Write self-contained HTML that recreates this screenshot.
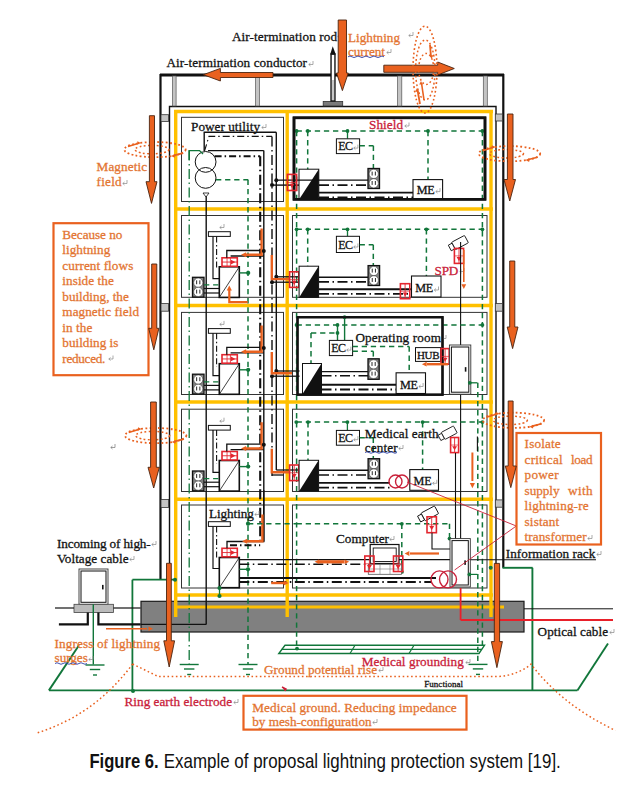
<!DOCTYPE html>
<html><head><meta charset="utf-8"><style>
html,body{margin:0;padding:0;background:#fff;}
svg{display:block;}
</style></head><body>
<svg width="636" height="788" viewBox="0 0 636 788">
<rect width="636" height="788" fill="#fff"/>
<rect x="141" y="601.3" width="383" height="30.7" fill="#808080" stroke="#1a1a1a" stroke-width="1.2" />
<line x1="174" y1="111.5" x2="493" y2="111.5" stroke="#ffc000" stroke-width="3.6" />
<line x1="174" y1="209" x2="493" y2="209" stroke="#ffc000" stroke-width="3.6" />
<line x1="174" y1="305.5" x2="493" y2="305.5" stroke="#ffc000" stroke-width="3.6" />
<line x1="174" y1="402" x2="493" y2="402" stroke="#ffc000" stroke-width="3.6" />
<line x1="174" y1="499.3" x2="493" y2="499.3" stroke="#ffc000" stroke-width="3.6" />
<line x1="174" y1="595" x2="493" y2="595" stroke="#ffc000" stroke-width="3.6" />
<line x1="175.7" y1="110" x2="175.7" y2="597" stroke="#ffc000" stroke-width="3.4" />
<line x1="287.2" y1="110" x2="287.2" y2="597" stroke="#ffc000" stroke-width="3.4" />
<line x1="491" y1="110" x2="491" y2="597" stroke="#ffc000" stroke-width="3.4" />
<line x1="175.7" y1="597" x2="175.7" y2="617" stroke="#ffc000" stroke-width="3.4" />
<line x1="491" y1="597" x2="491" y2="617" stroke="#ffc000" stroke-width="3.4" />
<line x1="287.2" y1="597" x2="287.2" y2="617" stroke="#ffc000" stroke-width="3.4" />
<line x1="175.7" y1="607" x2="504" y2="607" stroke="#ffc000" stroke-width="3" />
<path d="M160.5,580 V75 H503.3 V567.8" fill="none" stroke="#111" stroke-width="2.2" />
<line x1="160" y1="75" x2="504" y2="75" stroke="#111" stroke-width="3" />
<path d="M169.5,563 V106.5 H496 V601" fill="none" stroke="#111" stroke-width="1.4" />
<rect x="172.5" y="76" width="3.6" height="30" fill="#c4c4c4" stroke="#555" stroke-width="0.7" />
<rect x="255.6" y="76" width="3.8" height="30" fill="#c4c4c4" stroke="#555" stroke-width="0.7" />
<rect x="397.6" y="76" width="4.2" height="30" fill="#c4c4c4" stroke="#555" stroke-width="0.7" />
<rect x="483.3" y="76" width="4" height="30" fill="#c4c4c4" stroke="#555" stroke-width="0.7" />
<rect x="161" y="114.7" width="7.6" height="6.8" fill="#c4c4c4" stroke="#333" stroke-width="0.8" />
<rect x="161" y="303.6" width="7.6" height="7.6" fill="#c4c4c4" stroke="#333" stroke-width="0.8" />
<rect x="161" y="499.4" width="7.6" height="8" fill="#c4c4c4" stroke="#333" stroke-width="0.8" />
<rect x="495.3" y="114" width="7.2" height="7" fill="#c4c4c4" stroke="#333" stroke-width="0.8" />
<rect x="495.3" y="303.6" width="7.2" height="7.6" fill="#c4c4c4" stroke="#333" stroke-width="0.8" />
<rect x="495.3" y="499.9" width="7.2" height="7.3" fill="#c4c4c4" stroke="#333" stroke-width="0.8" />
<rect x="181.5" y="117.3" width="102" height="84.2" fill="none" stroke="#333" stroke-width="1" />
<rect x="181.5" y="215.5" width="102" height="81.80000000000001" fill="none" stroke="#333" stroke-width="1" />
<rect x="292.5" y="215.5" width="194.5" height="81.80000000000001" fill="none" stroke="#333" stroke-width="1" />
<rect x="181.5" y="312.4" width="102" height="82.10000000000002" fill="none" stroke="#333" stroke-width="1" />
<rect x="292.5" y="312.4" width="194.5" height="82.10000000000002" fill="none" stroke="#333" stroke-width="1" />
<rect x="181.5" y="409.2" width="102" height="82.30000000000001" fill="none" stroke="#333" stroke-width="1" />
<rect x="292.5" y="409.2" width="194.5" height="82.30000000000001" fill="none" stroke="#333" stroke-width="1" />
<rect x="181.5" y="505" width="102" height="83" fill="none" stroke="#333" stroke-width="1" />
<rect x="292.5" y="505" width="194.5" height="83" fill="none" stroke="#333" stroke-width="1" />
<rect x="294" y="117.8" width="191" height="81.5" fill="none" stroke="#111" stroke-width="2.6" />
<rect x="297.5" y="317.2" width="145" height="77.5" fill="none" stroke="#111" stroke-width="2.2" />
<text x="232" y="41.3" font-family="Liberation Serif" font-size="13.2" fill="#111" stroke="#111" stroke-width="0.28" textLength="105" lengthAdjust="spacing" >Air-termination rod</text>
<text x="166.5" y="67.3" font-family="Liberation Serif" font-size="13.2" fill="#111" stroke="#111" stroke-width="0.28" textLength="140.5" lengthAdjust="spacing" >Air-termination conductor</text>
<text x="348" y="42.3" font-family="Liberation Serif" font-size="13.2" fill="#e37431" stroke="#e37431" stroke-width="0.28" textLength="52" lengthAdjust="spacing" >Lightning</text>
<text x="348" y="56.3" font-family="Liberation Serif" font-size="13.2" fill="#e37431" stroke="#e37431" stroke-width="0.28" textLength="37" lengthAdjust="spacing" >current</text>
<text x="96.6" y="171.3" font-family="Liberation Serif" font-size="13.2" fill="#e37431" stroke="#e37431" stroke-width="0.28" textLength="50.4" lengthAdjust="spacing" >Magnetic</text>
<text x="96.6" y="186.3" font-family="Liberation Serif" font-size="13.2" fill="#e37431" stroke="#e37431" stroke-width="0.28" textLength="25" lengthAdjust="spacing" >field</text>
<text x="89.4" y="767.8" font-family="Liberation Sans" font-size="21" font-weight="bold" fill="#111" textLength="69.2" lengthAdjust="spacingAndGlyphs">Figure 6.</text>
<text x="163.8" y="767.8" font-family="Liberation Sans" font-size="21" fill="#111" textLength="397" lengthAdjust="spacingAndGlyphs">Example of proposal lightning protection system [19].</text>
<line x1="206.2" y1="196" x2="206.2" y2="624.4" stroke="#111" stroke-width="1.4" />
<path d="M140.8,624.4 H206.2" fill="none" stroke="#111" stroke-width="1.4" />
<line x1="260.2" y1="156.2" x2="260.2" y2="543.6" stroke="#111" stroke-width="2.1" stroke-dasharray="10,3.5,1.5,3.5"/>
<line x1="263.8" y1="150.6" x2="263.8" y2="541.5" stroke="#111" stroke-width="1.4" />
<line x1="272" y1="136.4" x2="272" y2="476" stroke="#111" stroke-width="1.4" stroke-dasharray="10,3.5,1.5,3.5"/>
<line x1="276.3" y1="132.3" x2="276.3" y2="470" stroke="#111" stroke-width="1.4" />
<line x1="189.2" y1="150.6" x2="189.2" y2="664" stroke="#11763a" stroke-width="1.3" stroke-dasharray="10,3.5,1.5,3.5"/>
<line x1="248" y1="179.8" x2="248" y2="664" stroke="#11763a" stroke-width="1.5" stroke-dasharray="5.3,3.8"/>
<line x1="179.7" y1="664.5" x2="198.7" y2="664.5" stroke="#11763a" stroke-width="1.4" />
<line x1="184.0" y1="669.0" x2="194.39999999999998" y2="669.0" stroke="#11763a" stroke-width="1.4" />
<line x1="187.2" y1="674.5" x2="191.2" y2="674.5" stroke="#11763a" stroke-width="1.4" />
<line x1="238.5" y1="664.5" x2="257.5" y2="664.5" stroke="#11763a" stroke-width="1.4" />
<line x1="242.8" y1="669.0" x2="253.2" y2="669.0" stroke="#11763a" stroke-width="1.4" />
<line x1="246" y1="674.5" x2="250" y2="674.5" stroke="#11763a" stroke-width="1.4" />
<text x="191" y="131.1" font-family="Liberation Serif" font-size="13.2" fill="#111" stroke="#111" stroke-width="0.28" textLength="69" lengthAdjust="spacing" >Power utility</text>
<path d="M266,124 V127.5 H261.8 M263.5,126 L261.8,127.5 L263.5,129" fill="none" stroke="#888" stroke-width="0.7"/>
<circle cx="205.6" cy="161.9" r="10.4" fill="#fff" stroke="#111" stroke-width="1"/>
<circle cx="205.6" cy="177.9" r="10.4" fill="none" stroke="#111" stroke-width="1"/>
<polygon points="203,193 209,193 206,197" fill="#fff" stroke="#111" stroke-width="0.8"/>
<path d="M204.2,151 V132.3 H276.3" fill="none" stroke="#111" stroke-width="1.4" />
<path d="M208,150.6 H263.8" fill="none" stroke="#111" stroke-width="1.4" />
<path d="M204.5,151 L209,136.4 H272" fill="none" stroke="#111" stroke-width="1.1" stroke-dasharray="7,3,1.5,3"/>
<path d="M214.6,156.2 H260.2" fill="none" stroke="#111" stroke-width="2.1" stroke-dasharray="7,3,1.5,3"/>
<path d="M189.2,160 V150.6 H199.5 L203,154" fill="none" stroke="#11763a" stroke-width="1.4" />
<line x1="216" y1="179.8" x2="248.2" y2="179.8" stroke="#11763a" stroke-width="1.5" stroke-dasharray="5.3,3.8"/>
<circle cx="276.3" cy="180.2" r="2" fill="#111"/>
<circle cx="272" cy="185.1" r="2" fill="#111"/>
<text x="369" y="129.3" font-family="Liberation Serif" font-size="13.2" fill="#c9213a" stroke="#c9213a" stroke-width="0.28" textLength="34" lengthAdjust="spacing" >Shield</text>
<path d="M409,122.5 V126.0 H404.8 M406.5,124.5 L404.8,126.0 L406.5,127.5" fill="none" stroke="#888" stroke-width="0.7"/>
<line x1="296.6" y1="131" x2="482.4" y2="131" stroke="#11763a" stroke-width="1.5" stroke-dasharray="5.3,3.8"/>
<circle cx="296.6" cy="131" r="1.9" fill="#11763a"/>
<circle cx="307.7" cy="131" r="1.9" fill="#11763a"/>
<circle cx="347.5" cy="131" r="1.9" fill="#11763a"/>
<circle cx="428" cy="131" r="1.9" fill="#11763a"/>
<circle cx="482.4" cy="131" r="1.9" fill="#11763a"/>
<line x1="296.6" y1="131" x2="296.6" y2="648.6" stroke="#11763a" stroke-width="1.5" stroke-dasharray="5.3,3.8"/>
<line x1="307.7" y1="131" x2="307.7" y2="199" stroke="#11763a" stroke-width="1.5" stroke-dasharray="5.3,3.8"/>
<line x1="428" y1="131" x2="428" y2="179.6" stroke="#11763a" stroke-width="1.5" stroke-dasharray="5.3,3.8"/>
<line x1="482.4" y1="131" x2="482.4" y2="645" stroke="#11763a" stroke-width="1.5" stroke-dasharray="5.3,3.8"/>
<line x1="347.5" y1="131" x2="347.5" y2="138.8" stroke="#11763a" stroke-width="1.3" />
<rect x="336.4" y="138.8" width="23.2" height="14.8" fill="#fff" stroke="#111" stroke-width="1" />
<text x="338.2" y="150.00000000000003" font-family="Liberation Serif" font-size="12" fill="#111" stroke="#111" stroke-width="0.28" textLength="14.8" lengthAdjust="spacing" >EC</text>
<path d="M357.9,144.60000000000002 V148.10000000000002 H353.7 M355.4,146.60000000000002 L353.7,148.10000000000002 L355.4,149.60000000000002" fill="none" stroke="#888" stroke-width="0.7"/>
<line x1="359.6" y1="145.7" x2="373.4" y2="145.7" stroke="#11763a" stroke-width="1.5" stroke-dasharray="5.3,3.8"/>
<line x1="373.4" y1="145.7" x2="373.4" y2="168.5" stroke="#11763a" stroke-width="1.5" stroke-dasharray="5.3,3.8"/>
<rect x="368" y="168.5" width="11.5" height="20" fill="#808080" stroke="#111" stroke-width="1.3" />
<circle cx="373.75" cy="173.9" r="4.6" fill="#fff" stroke="#222" stroke-width="0.5"/>
<line x1="372.15" y1="171.6" x2="372.15" y2="175.5" stroke="#111" stroke-width="0.9" />
<line x1="375.35" y1="171.6" x2="375.35" y2="175.5" stroke="#111" stroke-width="0.9" />
<circle cx="373.75" cy="183.3" r="4.6" fill="#fff" stroke="#222" stroke-width="0.5"/>
<line x1="372.15" y1="181.0" x2="372.15" y2="184.9" stroke="#111" stroke-width="0.9" />
<line x1="375.35" y1="181.0" x2="375.35" y2="184.9" stroke="#111" stroke-width="0.9" />
<rect x="413" y="179.6" width="29.6" height="19" fill="#fff" stroke="#111" stroke-width="1.1" />
<text x="416.8" y="193.6" font-family="Liberation Serif" font-size="12.2" fill="#111" stroke="#111" stroke-width="0.28" textLength="18" lengthAdjust="spacing" >ME</text>
<path d="M440,188.1 V191.6 H435.8 M437.5,190.1 L435.8,191.6 L437.5,193.1" fill="none" stroke="#888" stroke-width="0.7"/>
<rect x="299" y="169.2" width="19.8" height="30.4" fill="#fff" stroke="#111" stroke-width="1" />
<polygon points="299,199.6 318.8,169.2 318.8,199.6" fill="#111"/>
<line x1="276.3" y1="180.2" x2="368" y2="180.2" stroke="#111" stroke-width="1.3" />
<line x1="272" y1="185.1" x2="299" y2="185.1" stroke="#111" stroke-width="1.4" />
<line x1="319" y1="185.1" x2="368" y2="185.1" stroke="#111" stroke-width="1.6" stroke-dasharray="10,3.5,1.5,3.5"/>
<line x1="319" y1="192.6" x2="413" y2="192.6" stroke="#111" stroke-width="1.9" />
<line x1="319" y1="197.4" x2="413" y2="197.4" stroke="#111" stroke-width="1.9" stroke-dasharray="10,3.5,1.5,3.5"/>
<rect x="294" y="117.8" width="191" height="81.5" fill="none" stroke="#111" stroke-width="2.6" />
<rect x="287.4" y="174.4" width="9.2" height="16.1" fill="none" stroke="#e3262f" stroke-width="1.6" />
<line x1="292.0" y1="174.4" x2="292.0" y2="190.5" stroke="#e3262f" stroke-width="0.9" />
<line x1="287.4" y1="182.45000000000002" x2="296.59999999999997" y2="182.45000000000002" stroke="#e3262f" stroke-width="0.7" />
<polygon points="289.6,183.738 294.4,183.738 292.0,188.085" fill="#e3262f"/>
<path d="M224,224 V227.5 H219.8 M221.5,226 L219.8,227.5 L221.5,229" fill="none" stroke="#888" stroke-width="0.7"/>
<rect x="208.4" y="231.7" width="21.9" height="4.7" fill="#fff" stroke="#111" stroke-width="1" />
<path d="M213,236.4 V278.7 H219.5" fill="none" stroke="#111" stroke-width="1.2" />
<line x1="216.6" y1="236.4" x2="216.6" y2="270" stroke="#111" stroke-width="1.1" stroke-dasharray="6,2.5,1.5,2.5"/>
<rect x="219.3" y="266.8" width="20" height="30.6" fill="#fff" stroke="#111" stroke-width="1.6" />
<line x1="219.3" y1="297.40000000000003" x2="239.3" y2="266.8" stroke="#111" stroke-width="0.8" />
<rect x="222" y="257.8" width="15.3" height="8.5" fill="#fff" stroke="#e3262f" stroke-width="1.6" />
<line x1="222" y1="262.05" x2="237.3" y2="262.05" stroke="#e3262f" stroke-width="0.9" />
<line x1="227.049" y1="257.8" x2="227.049" y2="266.3" stroke="#e3262f" stroke-width="0.8" />
<line x1="230.415" y1="257.8" x2="230.415" y2="266.3" stroke="#e3262f" stroke-width="0.8" />
<polygon points="230.874,259.65000000000003 230.874,264.45 235.464,262.05" fill="#e3262f"/>
<path d="M226.8,257.8 V250.5 H263.8" fill="none" stroke="#111" stroke-width="1.3" />
<line x1="230.6" y1="256" x2="263.8" y2="256" stroke="#111" stroke-width="1.3" />
<path d="M261.6,228.6 L261.6,254.8 L246,254.8" fill="none" stroke="#e9611f" stroke-width="2.4" stroke-linejoin="miter"/>
<polygon points="241,254.8 246.12,252.24 246.12,257.36" fill="#e9611f"/>
<circle cx="263.8" cy="251" r="2" fill="#111"/>
<line x1="239.3" y1="272.9" x2="248.2" y2="272.9" stroke="#11763a" stroke-width="1.4" />
<circle cx="248.2" cy="272.9" r="2.1" fill="#11763a"/>
<rect x="192.5" y="277.3" width="11.5" height="19.8" fill="#808080" stroke="#111" stroke-width="1.3" />
<circle cx="198.25" cy="282.646" r="4.6" fill="#fff" stroke="#222" stroke-width="0.5"/>
<line x1="196.65" y1="280.346" x2="196.65" y2="284.24600000000004" stroke="#111" stroke-width="0.9" />
<line x1="199.85" y1="280.346" x2="199.85" y2="284.24600000000004" stroke="#111" stroke-width="0.9" />
<circle cx="198.25" cy="291.952" r="4.6" fill="#fff" stroke="#222" stroke-width="0.5"/>
<line x1="196.65" y1="289.652" x2="196.65" y2="293.552" stroke="#111" stroke-width="0.9" />
<line x1="199.85" y1="289.652" x2="199.85" y2="293.552" stroke="#111" stroke-width="0.9" />
<line x1="204" y1="284.9" x2="219.3" y2="284.9" stroke="#11763a" stroke-width="1.2" stroke-dasharray="5.3,3.8"/>
<line x1="204" y1="288.5" x2="219.3" y2="288.5" stroke="#111" stroke-width="1.2" />
<line x1="204" y1="293" x2="219.3" y2="293" stroke="#111" stroke-width="1.2" />
<path d="M247.7,302.2 L229.3,302.2 L229.3,290" fill="none" stroke="#e9611f" stroke-width="2.2" stroke-linejoin="miter"/>
<polygon points="229.3,285.5 226.74,290.62 231.86,290.62" fill="#e9611f"/>
<circle cx="276.3" cy="276.8" r="2" fill="#111"/>
<circle cx="272" cy="282.2" r="2" fill="#111"/>
<line x1="276.3" y1="276.8" x2="299.5" y2="276.8" stroke="#111" stroke-width="1.3" />
<line x1="272" y1="282.2" x2="299.5" y2="282.2" stroke="#111" stroke-width="1.3" />
<path d="M271.8,255 L271.8,279.1 L290,279.1" fill="none" stroke="#e9611f" stroke-width="2.4" stroke-linejoin="miter"/>
<rect x="289.6" y="271.8" width="9.2" height="15.6" fill="none" stroke="#e3262f" stroke-width="1.6" />
<line x1="294.20000000000005" y1="271.8" x2="294.20000000000005" y2="287.40000000000003" stroke="#e3262f" stroke-width="0.9" />
<line x1="289.6" y1="279.6" x2="298.8" y2="279.6" stroke="#e3262f" stroke-width="0.7" />
<polygon points="291.80000000000007,280.848 296.6,280.848 294.20000000000005,285.06" fill="#e3262f"/>
<path d="M224,320.9 V324.4 H219.8 M221.5,322.9 L219.8,324.4 L221.5,325.9" fill="none" stroke="#888" stroke-width="0.7"/>
<rect x="208.4" y="328.6" width="21.9" height="4.7" fill="#fff" stroke="#111" stroke-width="1" />
<path d="M213,333.3 V375.6 H219.5" fill="none" stroke="#111" stroke-width="1.2" />
<line x1="216.6" y1="333.3" x2="216.6" y2="366.9" stroke="#111" stroke-width="1.1" stroke-dasharray="6,2.5,1.5,2.5"/>
<rect x="219.3" y="363.7" width="20" height="30.6" fill="#fff" stroke="#111" stroke-width="1.6" />
<line x1="219.3" y1="394.3" x2="239.3" y2="363.7" stroke="#111" stroke-width="0.8" />
<rect x="222" y="354.7" width="15.3" height="8.5" fill="#fff" stroke="#e3262f" stroke-width="1.6" />
<line x1="222" y1="358.95" x2="237.3" y2="358.95" stroke="#e3262f" stroke-width="0.9" />
<line x1="227.049" y1="354.7" x2="227.049" y2="363.2" stroke="#e3262f" stroke-width="0.8" />
<line x1="230.415" y1="354.7" x2="230.415" y2="363.2" stroke="#e3262f" stroke-width="0.8" />
<polygon points="230.874,356.55 230.874,361.34999999999997 235.464,358.95" fill="#e3262f"/>
<path d="M226.8,354.7 V347.4 H263.8" fill="none" stroke="#111" stroke-width="1.3" />
<line x1="230.6" y1="352.9" x2="263.8" y2="352.9" stroke="#111" stroke-width="1.3" />
<path d="M261.6,325.5 L261.6,351.7 L246,351.7" fill="none" stroke="#e9611f" stroke-width="2.4" stroke-linejoin="miter"/>
<polygon points="241,351.7 246.12,349.14 246.12,354.26" fill="#e9611f"/>
<circle cx="263.8" cy="347.9" r="2" fill="#111"/>
<line x1="239.3" y1="369.8" x2="248.2" y2="369.8" stroke="#11763a" stroke-width="1.4" />
<circle cx="248.2" cy="369.8" r="2.1" fill="#11763a"/>
<rect x="192.5" y="374.2" width="11.5" height="19.8" fill="#808080" stroke="#111" stroke-width="1.3" />
<circle cx="198.25" cy="379.546" r="4.6" fill="#fff" stroke="#222" stroke-width="0.5"/>
<line x1="196.65" y1="377.246" x2="196.65" y2="381.146" stroke="#111" stroke-width="0.9" />
<line x1="199.85" y1="377.246" x2="199.85" y2="381.146" stroke="#111" stroke-width="0.9" />
<circle cx="198.25" cy="388.852" r="4.6" fill="#fff" stroke="#222" stroke-width="0.5"/>
<line x1="196.65" y1="386.55199999999996" x2="196.65" y2="390.452" stroke="#111" stroke-width="0.9" />
<line x1="199.85" y1="386.55199999999996" x2="199.85" y2="390.452" stroke="#111" stroke-width="0.9" />
<line x1="204" y1="381.8" x2="219.3" y2="381.8" stroke="#11763a" stroke-width="1.2" stroke-dasharray="5.3,3.8"/>
<line x1="204" y1="385.4" x2="219.3" y2="385.4" stroke="#111" stroke-width="1.2" />
<line x1="204" y1="389.9" x2="219.3" y2="389.9" stroke="#111" stroke-width="1.2" />
<circle cx="276.3" cy="371.0" r="2" fill="#111"/>
<circle cx="272" cy="376.2" r="2" fill="#111"/>
<line x1="276.3" y1="371.0" x2="299.5" y2="371.0" stroke="#111" stroke-width="1.3" />
<line x1="272" y1="376.2" x2="299.5" y2="376.2" stroke="#111" stroke-width="1.3" />
<path d="M271.8,351.9 L271.8,373.3 L292,373.3" fill="none" stroke="#e9611f" stroke-width="2.4" stroke-linejoin="miter"/>
<path d="M224,417.7 V421.2 H219.8 M221.5,419.7 L219.8,421.2 L221.5,422.7" fill="none" stroke="#888" stroke-width="0.7"/>
<rect x="208.4" y="425.4" width="21.9" height="4.7" fill="#fff" stroke="#111" stroke-width="1" />
<path d="M213,430.1 V472.4 H219.5" fill="none" stroke="#111" stroke-width="1.2" />
<line x1="216.6" y1="430.1" x2="216.6" y2="463.7" stroke="#111" stroke-width="1.1" stroke-dasharray="6,2.5,1.5,2.5"/>
<rect x="219.3" y="460.5" width="20" height="30.6" fill="#fff" stroke="#111" stroke-width="1.6" />
<line x1="219.3" y1="491.1" x2="239.3" y2="460.5" stroke="#111" stroke-width="0.8" />
<rect x="222" y="451.5" width="15.3" height="8.5" fill="#fff" stroke="#e3262f" stroke-width="1.6" />
<line x1="222" y1="455.75" x2="237.3" y2="455.75" stroke="#e3262f" stroke-width="0.9" />
<line x1="227.049" y1="451.5" x2="227.049" y2="460.0" stroke="#e3262f" stroke-width="0.8" />
<line x1="230.415" y1="451.5" x2="230.415" y2="460.0" stroke="#e3262f" stroke-width="0.8" />
<polygon points="230.874,453.35 230.874,458.15 235.464,455.75" fill="#e3262f"/>
<path d="M226.8,451.5 V444.2 H263.8" fill="none" stroke="#111" stroke-width="1.3" />
<line x1="230.6" y1="449.7" x2="263.8" y2="449.7" stroke="#111" stroke-width="1.3" />
<path d="M261.6,422.3 L261.6,448.5 L246,448.5" fill="none" stroke="#e9611f" stroke-width="2.4" stroke-linejoin="miter"/>
<polygon points="241,448.5 246.12,445.94 246.12,451.06" fill="#e9611f"/>
<circle cx="263.8" cy="444.7" r="2" fill="#111"/>
<line x1="239.3" y1="466.6" x2="248.2" y2="466.6" stroke="#11763a" stroke-width="1.4" />
<circle cx="248.2" cy="466.6" r="2.1" fill="#11763a"/>
<rect x="192.5" y="471.0" width="11.5" height="19.8" fill="#808080" stroke="#111" stroke-width="1.3" />
<circle cx="198.25" cy="476.346" r="4.6" fill="#fff" stroke="#222" stroke-width="0.5"/>
<line x1="196.65" y1="474.046" x2="196.65" y2="477.946" stroke="#111" stroke-width="0.9" />
<line x1="199.85" y1="474.046" x2="199.85" y2="477.946" stroke="#111" stroke-width="0.9" />
<circle cx="198.25" cy="485.652" r="4.6" fill="#fff" stroke="#222" stroke-width="0.5"/>
<line x1="196.65" y1="483.352" x2="196.65" y2="487.252" stroke="#111" stroke-width="0.9" />
<line x1="199.85" y1="483.352" x2="199.85" y2="487.252" stroke="#111" stroke-width="0.9" />
<line x1="204" y1="478.6" x2="219.3" y2="478.6" stroke="#11763a" stroke-width="1.2" stroke-dasharray="5.3,3.8"/>
<line x1="204" y1="482.2" x2="219.3" y2="482.2" stroke="#111" stroke-width="1.2" />
<line x1="204" y1="486.7" x2="219.3" y2="486.7" stroke="#111" stroke-width="1.2" />
<line x1="276.3" y1="470.0" x2="299.5" y2="470.0" stroke="#111" stroke-width="1.3" />
<line x1="272" y1="475.0" x2="283.5" y2="475.0" stroke="#111" stroke-width="1.3" />
<path d="M271.8,448.7 L271.8,472.3 L290,472.3" fill="none" stroke="#e9611f" stroke-width="2.4" stroke-linejoin="miter"/>
<rect x="289.6" y="465.0" width="9.2" height="15.6" fill="none" stroke="#e3262f" stroke-width="1.6" />
<line x1="294.20000000000005" y1="465.0" x2="294.20000000000005" y2="480.6" stroke="#e3262f" stroke-width="0.9" />
<line x1="289.6" y1="472.8" x2="298.8" y2="472.8" stroke="#e3262f" stroke-width="0.7" />
<polygon points="291.80000000000007,474.048 296.6,474.048 294.20000000000005,478.26" fill="#e3262f"/>
<line x1="296.6" y1="229.3" x2="482.4" y2="229.3" stroke="#11763a" stroke-width="1.5" stroke-dasharray="5.3,3.8"/>
<circle cx="296.6" cy="229.3" r="1.9" fill="#11763a"/>
<circle cx="307.7" cy="229.3" r="1.9" fill="#11763a"/>
<circle cx="347.5" cy="229.3" r="1.9" fill="#11763a"/>
<circle cx="426.4" cy="229.3" r="1.9" fill="#11763a"/>
<circle cx="482.4" cy="229.3" r="1.9" fill="#11763a"/>
<line x1="307.7" y1="229.3" x2="307.7" y2="297" stroke="#11763a" stroke-width="1.5" stroke-dasharray="5.3,3.8"/>
<line x1="426.4" y1="229.3" x2="426.4" y2="297" stroke="#11763a" stroke-width="1.5" stroke-dasharray="5.3,3.8"/>
<line x1="347.5" y1="229.3" x2="347.5" y2="236.3" stroke="#11763a" stroke-width="1.3" />
<rect x="336.4" y="236.3" width="23.1" height="16.2" fill="#fff" stroke="#111" stroke-width="1" />
<text x="338.2" y="248.9" font-family="Liberation Serif" font-size="12" fill="#111" stroke="#111" stroke-width="0.28" textLength="14.8" lengthAdjust="spacing" >EC</text>
<path d="M357.9,243.5 V247.0 H353.7 M355.4,245.5 L353.7,247.0 L355.4,248.5" fill="none" stroke="#888" stroke-width="0.7"/>
<line x1="359.6" y1="244.7" x2="373.3" y2="244.7" stroke="#11763a" stroke-width="1.5" stroke-dasharray="5.3,3.8"/>
<line x1="373.3" y1="244.7" x2="373.3" y2="265.6" stroke="#11763a" stroke-width="1.5" stroke-dasharray="5.3,3.8"/>
<rect x="368.1" y="265.6" width="11.5" height="19.9" fill="#808080" stroke="#111" stroke-width="1.3" />
<circle cx="373.85" cy="270.973" r="4.6" fill="#fff" stroke="#222" stroke-width="0.5"/>
<line x1="372.25" y1="268.673" x2="372.25" y2="272.57300000000004" stroke="#111" stroke-width="0.9" />
<line x1="375.45000000000005" y1="268.673" x2="375.45000000000005" y2="272.57300000000004" stroke="#111" stroke-width="0.9" />
<circle cx="373.85" cy="280.326" r="4.6" fill="#fff" stroke="#222" stroke-width="0.5"/>
<line x1="372.25" y1="278.026" x2="372.25" y2="281.92600000000004" stroke="#111" stroke-width="0.9" />
<line x1="375.45000000000005" y1="278.026" x2="375.45000000000005" y2="281.92600000000004" stroke="#111" stroke-width="0.9" />
<rect x="299.1" y="266.2" width="19.5" height="31.2" fill="#fff" stroke="#111" stroke-width="1" />
<polygon points="299.1,297.4 318.6,266.2 318.6,297.4" fill="#111"/>
<line x1="319" y1="277.2" x2="368" y2="277.2" stroke="#111" stroke-width="1.4" />
<line x1="319" y1="281.9" x2="368" y2="281.9" stroke="#111" stroke-width="1.6" stroke-dasharray="10,3.5,1.5,3.5"/>
<line x1="319" y1="289.2" x2="411.5" y2="289.2" stroke="#111" stroke-width="1.9" />
<line x1="319" y1="293.9" x2="411.5" y2="293.9" stroke="#111" stroke-width="1.9" stroke-dasharray="10,3.5,1.5,3.5"/>
<rect x="400.4" y="283.7" width="9.4" height="15" fill="none" stroke="#e3262f" stroke-width="1.6" />
<line x1="405.09999999999997" y1="283.7" x2="405.09999999999997" y2="298.7" stroke="#e3262f" stroke-width="0.9" />
<line x1="400.4" y1="291.2" x2="409.79999999999995" y2="291.2" stroke="#e3262f" stroke-width="0.7" />
<polygon points="402.7,292.4 407.49999999999994,292.4 405.09999999999997,296.45" fill="#e3262f"/>
<rect x="411.5" y="276" width="29.5" height="21" fill="#fff" stroke="#111" stroke-width="1.1" />
<text x="415.3" y="292" font-family="Liberation Serif" font-size="12.2" fill="#111" stroke="#111" stroke-width="0.28" textLength="18" lengthAdjust="spacing" >ME</text>
<path d="M438.5,286.5 V290.0 H434.3 M436.0,288.5 L434.3,290.0 L436.0,291.5" fill="none" stroke="#888" stroke-width="0.7"/>
<g transform="translate(453.5,246) rotate(-28) scale(1.05)"><rect x="0" y="-4" width="14" height="8" fill="#fff" stroke="#111" stroke-width="0.8" rx="0.8"/><rect x="-4" y="-3" width="4" height="6" fill="#fff" stroke="#111" stroke-width="0.8"/></g>
<rect x="454.4" y="248.4" width="9.2" height="15" fill="none" stroke="#e3262f" stroke-width="1.6" />
<line x1="459.0" y1="248.4" x2="459.0" y2="263.4" stroke="#e3262f" stroke-width="0.9" />
<line x1="454.4" y1="255.9" x2="463.59999999999997" y2="255.9" stroke="#e3262f" stroke-width="0.7" />
<polygon points="456.6,257.1 461.4,257.1 459.0,261.15" fill="#e3262f"/>
<text x="434.6" y="274.9" font-family="Liberation Serif" font-size="13.2" fill="#c9213a" stroke="#c9213a" stroke-width="0.28" textLength="23.6" lengthAdjust="spacing" >SPD</text>
<path d="M464,268 V271.5 H459.8 M461.5,270 L459.8,271.5 L461.5,273" fill="none" stroke="#888" stroke-width="0.7"/>
<line x1="460.6" y1="242" x2="460.6" y2="539" stroke="#111" stroke-width="1.1" />
<line x1="463.8" y1="250" x2="463.8" y2="282" stroke="#e9611f" stroke-width="1.6" />
<polygon points="463.8,289 461.40000000000003,284.2 466.2,284.2" fill="#e9611f"/>
<line x1="296.6" y1="324.9" x2="482.4" y2="324.9" stroke="#11763a" stroke-width="1.5" stroke-dasharray="5.3,3.8"/>
<circle cx="296.6" cy="324.9" r="1.9" fill="#11763a"/>
<circle cx="482.4" cy="324.9" r="1.9" fill="#11763a"/>
<circle cx="344.6" cy="317.2" r="1.9" fill="#11763a"/>
<line x1="311" y1="332.9" x2="337.5" y2="332.9" stroke="#11763a" stroke-width="1.5" stroke-dasharray="5.3,3.8"/>
<circle cx="337.5" cy="332.9" r="1.9" fill="#11763a"/>
<circle cx="337.5" cy="324.9" r="1.9" fill="#11763a"/>
<line x1="311" y1="332.9" x2="311" y2="363" stroke="#11763a" stroke-width="1.5" stroke-dasharray="5.3,3.8"/>
<line x1="337.5" y1="324.9" x2="337.5" y2="340.4" stroke="#11763a" stroke-width="1.4" />
<line x1="344.6" y1="316.8" x2="344.6" y2="340.4" stroke="#11763a" stroke-width="1.4" />
<rect x="329.4" y="340.4" width="23.2" height="15.2" fill="#fff" stroke="#111" stroke-width="1" />
<text x="331.2" y="351.99999999999994" font-family="Liberation Serif" font-size="12" fill="#111" stroke="#111" stroke-width="0.28" textLength="14.8" lengthAdjust="spacing" >EC</text>
<path d="M350.9,346.59999999999997 V350.09999999999997 H346.7 M348.4,348.59999999999997 L346.7,350.09999999999997 L348.4,351.59999999999997" fill="none" stroke="#888" stroke-width="0.7"/>
<line x1="352.6" y1="346.5" x2="409.2" y2="346.5" stroke="#11763a" stroke-width="1.5" stroke-dasharray="5.3,3.8"/>
<line x1="409.2" y1="346.5" x2="409.2" y2="372.8" stroke="#11763a" stroke-width="1.5" stroke-dasharray="5.3,3.8"/>
<line x1="352.6" y1="351.3" x2="373.3" y2="351.3" stroke="#11763a" stroke-width="1.5" stroke-dasharray="5.3,3.8"/>
<line x1="373.3" y1="351.3" x2="373.3" y2="358.8" stroke="#11763a" stroke-width="1.5" stroke-dasharray="5.3,3.8"/>
<text x="355.4" y="342.0" font-family="Liberation Serif" font-size="13.2" fill="#111" stroke="#111" stroke-width="0.28" textLength="85.6" lengthAdjust="spacing" >Operating room</text>
<path d="M446,335 V338.5 H441.8 M443.5,337 L441.8,338.5 L443.5,340" fill="none" stroke="#888" stroke-width="0.7"/>
<rect x="368" y="358.8" width="11.2" height="20.5" fill="#808080" stroke="#111" stroke-width="1.3" />
<circle cx="373.6" cy="364.33500000000004" r="4.6" fill="#fff" stroke="#222" stroke-width="0.5"/>
<line x1="372.0" y1="362.035" x2="372.0" y2="365.93500000000006" stroke="#111" stroke-width="0.9" />
<line x1="375.20000000000005" y1="362.035" x2="375.20000000000005" y2="365.93500000000006" stroke="#111" stroke-width="0.9" />
<circle cx="373.6" cy="373.97" r="4.6" fill="#fff" stroke="#222" stroke-width="0.5"/>
<line x1="372.0" y1="371.67" x2="372.0" y2="375.57000000000005" stroke="#111" stroke-width="0.9" />
<line x1="375.20000000000005" y1="371.67" x2="375.20000000000005" y2="375.57000000000005" stroke="#111" stroke-width="0.9" />
<rect x="302.5" y="363.5" width="19" height="30.5" fill="#fff" stroke="#111" stroke-width="1" />
<polygon points="302.5,394.0 321.5,363.5 321.5,394.0" fill="#111"/>
<line x1="321.5" y1="371.6" x2="368" y2="371.6" stroke="#111" stroke-width="1.4" />
<line x1="321.5" y1="375.8" x2="368" y2="375.8" stroke="#111" stroke-width="1.6" stroke-dasharray="10,3.5,1.5,3.5"/>
<line x1="321.5" y1="384.7" x2="396" y2="384.7" stroke="#111" stroke-width="1.9" />
<line x1="321.5" y1="389.5" x2="396" y2="389.5" stroke="#111" stroke-width="1.9" stroke-dasharray="10,3.5,1.5,3.5"/>
<rect x="396.1" y="372.8" width="29.4" height="20.7" fill="#fff" stroke="#111" stroke-width="1.1" />
<text x="399.90000000000003" y="388.5" font-family="Liberation Serif" font-size="12.2" fill="#111" stroke="#111" stroke-width="0.28" textLength="18" lengthAdjust="spacing" >ME</text>
<path d="M423.1,383.0 V386.5 H418.90000000000003 M420.6,385.0 L418.90000000000003,386.5 L420.6,388.0" fill="none" stroke="#888" stroke-width="0.7"/>
<rect x="297.5" y="317.2" width="145" height="77.5" fill="none" stroke="#111" stroke-width="2.2" />
<rect x="415.5" y="347.6" width="25" height="13.8" fill="#fff" stroke="#111" stroke-width="1" />
<text x="417" y="358.6" font-family="Liberation Serif" font-size="11" fill="#111" stroke="#111" stroke-width="0.28" textLength="22.5" lengthAdjust="spacing" >HUB</text>
<rect x="441" y="348.6" width="8.2" height="15.6" fill="none" stroke="#e3262f" stroke-width="1.6" />
<line x1="445.1" y1="348.6" x2="445.1" y2="364.20000000000005" stroke="#e3262f" stroke-width="0.9" />
<line x1="441" y1="356.40000000000003" x2="449.2" y2="356.40000000000003" stroke="#e3262f" stroke-width="0.7" />
<polygon points="442.70000000000005,357.648 447.5,357.648 445.1,361.86" fill="#e3262f"/>
<path d="M448,364.2 L427,364.2" fill="none" stroke="#e9611f" stroke-width="2.4" stroke-linejoin="miter"/>
<polygon points="421.9,364.2 426.7,361.8 426.7,366.59999999999997" fill="#e9611f"/>
<rect x="449.4" y="345" width="21.4" height="49.2" fill="#fff" stroke="#333" stroke-width="0.9" />
<rect x="451.4" y="347" width="17.4" height="45.2" fill="#fff" stroke="#111" stroke-width="1" />
<rect x="464.79999999999995" y="367.14" width="1.6" height="4.5" fill="#111" stroke="none" stroke-width="0" />
<line x1="469.8" y1="382.8" x2="477.4" y2="382.8" stroke="#11763a" stroke-width="1.3" />
<circle cx="469.8" cy="382.8" r="1.9" fill="#11763a"/>
<line x1="477.8" y1="382.8" x2="477.8" y2="664" stroke="#11763a" stroke-width="1.5" stroke-dasharray="5.3,3.8"/>
<line x1="296.6" y1="422.1" x2="482.4" y2="422.1" stroke="#11763a" stroke-width="1.5" stroke-dasharray="5.3,3.8"/>
<circle cx="296.3" cy="422.1" r="1.9" fill="#11763a"/>
<circle cx="308" cy="422.1" r="1.9" fill="#11763a"/>
<circle cx="347.4" cy="422.1" r="1.9" fill="#11763a"/>
<circle cx="422.6" cy="422.1" r="1.9" fill="#11763a"/>
<circle cx="482.4" cy="422.1" r="1.9" fill="#11763a"/>
<line x1="308" y1="422.1" x2="308" y2="460" stroke="#11763a" stroke-width="1.5" stroke-dasharray="5.3,3.8"/>
<line x1="422.6" y1="422.1" x2="422.6" y2="469.6" stroke="#11763a" stroke-width="1.5" stroke-dasharray="5.3,3.8"/>
<line x1="347.4" y1="422.1" x2="347.4" y2="430.4" stroke="#11763a" stroke-width="1.3" />
<rect x="336.4" y="430.4" width="23.1" height="14.8" fill="#fff" stroke="#111" stroke-width="1" />
<text x="338.2" y="441.59999999999997" font-family="Liberation Serif" font-size="12" fill="#111" stroke="#111" stroke-width="0.28" textLength="14.8" lengthAdjust="spacing" >EC</text>
<path d="M357.9,436.2 V439.7 H353.7 M355.4,438.2 L353.7,439.7 L355.4,441.2" fill="none" stroke="#888" stroke-width="0.7"/>
<line x1="359.5" y1="437.8" x2="373.3" y2="437.8" stroke="#11763a" stroke-width="1.5" stroke-dasharray="5.3,3.8"/>
<line x1="373.3" y1="437.8" x2="373.3" y2="458.7" stroke="#11763a" stroke-width="1.5" stroke-dasharray="5.3,3.8"/>
<text x="364.8" y="438.0" font-family="Liberation Serif" font-size="13.2" fill="#111" stroke="#111" stroke-width="0.28" textLength="73.7" lengthAdjust="spacing" >Medical earth</text>
<text x="364.8" y="451.8" font-family="Liberation Serif" font-size="13.2" fill="#111" stroke="#111" stroke-width="0.28" textLength="32.8" lengthAdjust="spacing" >center</text>
<path d="M365,452.5 q2,-1.5 4,0 t4,0 t4,0 t4,0 t4,0 t4,0 t4,0 t4,0" fill="none" stroke="#2b3fa8" stroke-width="0.9"/>
<path d="M403,445 V448.5 H398.8 M400.5,447 L398.8,448.5 L400.5,450" fill="none" stroke="#888" stroke-width="0.7"/>
<rect x="368.1" y="458.7" width="11.5" height="20" fill="#808080" stroke="#111" stroke-width="1.3" />
<circle cx="373.85" cy="464.09999999999997" r="4.6" fill="#fff" stroke="#222" stroke-width="0.5"/>
<line x1="372.25" y1="461.79999999999995" x2="372.25" y2="465.7" stroke="#111" stroke-width="0.9" />
<line x1="375.45000000000005" y1="461.79999999999995" x2="375.45000000000005" y2="465.7" stroke="#111" stroke-width="0.9" />
<circle cx="373.85" cy="473.5" r="4.6" fill="#fff" stroke="#222" stroke-width="0.5"/>
<line x1="372.25" y1="471.2" x2="372.25" y2="475.1" stroke="#111" stroke-width="0.9" />
<line x1="375.45000000000005" y1="471.2" x2="375.45000000000005" y2="475.1" stroke="#111" stroke-width="0.9" />
<rect x="299.1" y="460.3" width="19.5" height="31" fill="#fff" stroke="#111" stroke-width="1" />
<polygon points="299.1,491.3 318.6,460.3 318.6,491.3" fill="#111"/>
<line x1="319" y1="470.3" x2="368" y2="470.3" stroke="#111" stroke-width="1.4" />
<line x1="319" y1="475" x2="368" y2="475" stroke="#111" stroke-width="1.6" stroke-dasharray="10,3.5,1.5,3.5"/>
<line x1="319" y1="482.9" x2="390" y2="482.9" stroke="#111" stroke-width="1.9" />
<line x1="319" y1="487.6" x2="390" y2="487.6" stroke="#111" stroke-width="1.9" stroke-dasharray="10,3.5,1.5,3.5"/>
<circle cx="395.5" cy="481.5" r="6.5" fill="none" stroke="#c9213a" stroke-width="1.4"/>
<circle cx="402" cy="481.5" r="6.5" fill="none" stroke="#c9213a" stroke-width="1.4"/>
<rect x="409.8" y="469.6" width="28.7" height="20.7" fill="#fff" stroke="#111" stroke-width="1.1" />
<text x="413.6" y="485.3" font-family="Liberation Serif" font-size="12.2" fill="#111" stroke="#111" stroke-width="0.28" textLength="18" lengthAdjust="spacing" >ME</text>
<path d="M436.8,479.8 V483.3 H432.6 M434.3,481.8 L432.6,483.3 L434.3,484.8" fill="none" stroke="#888" stroke-width="0.7"/>
<g transform="translate(443,436) rotate(-28) scale(1.0)"><rect x="0" y="-4" width="14" height="8" fill="#fff" stroke="#111" stroke-width="0.8" rx="0.8"/><rect x="-4" y="-3" width="4" height="6" fill="#fff" stroke="#111" stroke-width="0.8"/></g>
<rect x="450.6" y="437.5" width="8" height="15.1" fill="none" stroke="#e3262f" stroke-width="1.6" />
<line x1="454.6" y1="437.5" x2="454.6" y2="452.6" stroke="#e3262f" stroke-width="0.9" />
<line x1="450.6" y1="445.05" x2="458.6" y2="445.05" stroke="#e3262f" stroke-width="0.7" />
<polygon points="452.20000000000005,446.258 457.0,446.258 454.6,450.335" fill="#e3262f"/>
<line x1="472.4" y1="452.5" x2="472.4" y2="481" stroke="#e9611f" stroke-width="2" />
<polygon points="472.4,488.2 469.84,483.08 474.96,483.08" fill="#e9611f"/>
<line x1="477.4" y1="436.5" x2="477.4" y2="451" stroke="#111" stroke-width="1.1" />
<line x1="455.5" y1="453" x2="455.5" y2="539" stroke="#111" stroke-width="1.1" />
<text x="208.9" y="517.9" font-family="Liberation Serif" font-size="13.2" fill="#111" stroke="#111" stroke-width="0.28" textLength="45" lengthAdjust="spacing" >Lighting</text>
<path d="M259,511 V514.5 H254.8 M256.5,513 L254.8,514.5 L256.5,516" fill="none" stroke="#888" stroke-width="0.7"/>
<rect x="208.4" y="521.7" width="21.9" height="4.7" fill="#fff" stroke="#111" stroke-width="1" />
<path d="M213,526.4 V568.5 H219.5" fill="none" stroke="#111" stroke-width="1.2" />
<line x1="216.6" y1="526.4" x2="216.6" y2="560" stroke="#111" stroke-width="1.1" stroke-dasharray="6,2.5,1.5,2.5"/>
<rect x="219.3" y="557.5" width="20" height="30.2" fill="#fff" stroke="#111" stroke-width="1.6" />
<line x1="219.3" y1="587.7" x2="239.3" y2="557.5" stroke="#111" stroke-width="0.8" />
<rect x="222" y="548.3" width="15.3" height="8.5" fill="#fff" stroke="#e3262f" stroke-width="1.6" />
<line x1="222" y1="552.55" x2="237.3" y2="552.55" stroke="#e3262f" stroke-width="0.9" />
<line x1="227.049" y1="548.3" x2="227.049" y2="556.8" stroke="#e3262f" stroke-width="0.8" />
<line x1="230.415" y1="548.3" x2="230.415" y2="556.8" stroke="#e3262f" stroke-width="0.8" />
<polygon points="230.874,550.15 230.874,554.9499999999999 235.464,552.55" fill="#e3262f"/>
<path d="M227,548.3 V541.5 H263.8 V490" fill="none" stroke="#111" stroke-width="1.3" />
<path d="M230,545.2 H260.2" fill="none" stroke="#111" stroke-width="2.0" stroke-dasharray="7,3,1.5,3"/>
<path d="M262.4,514.5 L262.4,541.2 L247,541.2" fill="none" stroke="#e9611f" stroke-width="2.4" stroke-linejoin="miter"/>
<polygon points="242,541.2 247.12,538.6400000000001 247.12,543.76" fill="#e9611f"/>
<circle cx="248" cy="523.7" r="2.1" fill="#11763a"/>
<line x1="248" y1="523.7" x2="296.6" y2="523.7" stroke="#11763a" stroke-width="1.5" stroke-dasharray="5.3,3.8"/>
<line x1="239.3" y1="569.3" x2="248" y2="569.3" stroke="#11763a" stroke-width="1.4" />
<circle cx="248" cy="569.3" r="2.1" fill="#11763a"/>
<circle cx="219.5" cy="588" r="2.1" fill="#11763a"/>
<circle cx="219.5" cy="596" r="2.1" fill="#11763a"/>
<line x1="219.5" y1="588" x2="219.5" y2="596" stroke="#11763a" stroke-width="1.3" />
<line x1="239.3" y1="559.6" x2="450" y2="559.6" stroke="#111" stroke-width="1.4" />
<line x1="239.3" y1="564.3" x2="366" y2="564.3" stroke="#111" stroke-width="1.5" stroke-dasharray="10,3.5,1.5,3.5"/>
<line x1="239.3" y1="578" x2="436" y2="578" stroke="#111" stroke-width="2" />
<line x1="239.3" y1="581.9" x2="432" y2="581.9" stroke="#111" stroke-width="2" stroke-dasharray="10,3.5,1.5,3.5"/>
<path d="M271.2,583 L284,583" fill="none" stroke="#e9611f" stroke-width="2.4" stroke-linejoin="miter"/>
<polygon points="288.6,583 283.8,580.6 283.8,585.4" fill="#e9611f"/>
<line x1="296.6" y1="523.8" x2="449.5" y2="523.8" stroke="#11763a" stroke-width="1.5" stroke-dasharray="5.3,3.8"/>
<circle cx="401.8" cy="523.8" r="1.9" fill="#11763a"/>
<line x1="449.5" y1="523.8" x2="449.5" y2="538.6" stroke="#11763a" stroke-width="1.5" stroke-dasharray="5.3,3.8"/>
<circle cx="449.5" cy="538.6" r="1.9" fill="#11763a"/>
<line x1="401.8" y1="523.8" x2="401.8" y2="571.9" stroke="#11763a" stroke-width="1.5" stroke-dasharray="5.3,3.8"/>
<circle cx="401.9" cy="571.9" r="1.9" fill="#11763a"/>
<text x="336" y="543.3" font-family="Liberation Serif" font-size="13.2" fill="#111" stroke="#111" stroke-width="0.28" textLength="53" lengthAdjust="spacing" >Computer</text>
<path d="M394,536 V539.5 H389.8 M391.5,538 L389.8,539.5 L391.5,541" fill="none" stroke="#888" stroke-width="0.7"/>
<g transform="translate(423,517) rotate(-28) scale(1.1)"><rect x="0" y="-4" width="14" height="8" fill="#fff" stroke="#111" stroke-width="0.8" rx="0.8"/><rect x="-4" y="-3" width="4" height="6" fill="#fff" stroke="#111" stroke-width="0.8"/></g>
<rect x="427" y="516.8" width="9.4" height="15.9" fill="none" stroke="#e3262f" stroke-width="1.6" />
<line x1="431.7" y1="516.8" x2="431.7" y2="532.6999999999999" stroke="#e3262f" stroke-width="0.9" />
<line x1="427" y1="524.75" x2="436.4" y2="524.75" stroke="#e3262f" stroke-width="0.7" />
<polygon points="429.3,526.0219999999999 434.09999999999997,526.0219999999999 431.7,530.3149999999999" fill="#e3262f"/>
<rect x="370.2" y="544.5" width="28.8" height="19" fill="#fff" stroke="#111" stroke-width="1.2" />
<rect x="373.2" y="548" width="23" height="13.5" fill="#fff" stroke="#111" stroke-width="0.9" />
<rect x="368.3" y="564.3" width="33.2" height="10" fill="#fff" stroke="#555" stroke-width="0.8" />
<line x1="368.3" y1="569" x2="401.5" y2="569" stroke="#777" stroke-width="0.6" />
<line x1="380" y1="564.3" x2="380" y2="574.3" stroke="#777" stroke-width="0.6" />
<line x1="390" y1="564.3" x2="390" y2="574.3" stroke="#777" stroke-width="0.6" />
<rect x="364.8" y="556" width="9.2" height="15.5" fill="none" stroke="#e3262f" stroke-width="1.6" />
<line x1="369.40000000000003" y1="556" x2="369.40000000000003" y2="571.5" stroke="#e3262f" stroke-width="0.9" />
<line x1="364.8" y1="563.75" x2="374.0" y2="563.75" stroke="#e3262f" stroke-width="0.7" />
<polygon points="367.00000000000006,564.99 371.8,564.99 369.40000000000003,569.175" fill="#e3262f"/>
<rect x="393.5" y="556" width="9.3" height="15.5" fill="none" stroke="#e3262f" stroke-width="1.6" />
<line x1="398.15" y1="556" x2="398.15" y2="571.5" stroke="#e3262f" stroke-width="0.9" />
<line x1="393.5" y1="563.75" x2="402.8" y2="563.75" stroke="#e3262f" stroke-width="0.7" />
<polygon points="395.75,564.99 400.54999999999995,564.99 398.15,569.175" fill="#e3262f"/>
<path d="M439,553.5 L410,553.5" fill="none" stroke="#e9611f" stroke-width="2.2" stroke-linejoin="miter"/>
<polygon points="404.6,553.5 409.40000000000003,551.1 409.40000000000003,555.9" fill="#e9611f"/>
<path d="M319,561.8 L344.5,561.8" fill="none" stroke="#e9611f" stroke-width="3.2" stroke-linejoin="miter"/>
<polygon points="314.6,561.8 319.08000000000004,559.56 319.08000000000004,564.04" fill="#e9611f"/>
<polygon points="349.2,561.8 344.71999999999997,559.56 344.71999999999997,564.04" fill="#e9611f"/>
<path d="M432,532.7 V549 H450" fill="none" stroke="#111" stroke-width="1.1" />
<rect x="450" y="538.6" width="20.3" height="48.4" fill="#fff" stroke="#333" stroke-width="0.9" />
<rect x="452" y="540.6" width="16.3" height="44.4" fill="#fff" stroke="#111" stroke-width="1" />
<rect x="464.3" y="560.38" width="1.6" height="4.5" fill="#111" stroke="none" stroke-width="0" />
<circle cx="439.5" cy="579.4" r="8.5" fill="none" stroke="#c9213a" stroke-width="1.4"/>
<circle cx="448" cy="579.4" r="8.5" fill="none" stroke="#c9213a" stroke-width="1.4"/>
<circle cx="469.4" cy="574.4" r="1.9" fill="#11763a"/>
<line x1="469.4" y1="574.4" x2="477.4" y2="574.4" stroke="#11763a" stroke-width="1.2" />
<line x1="502.5" y1="567.8" x2="532.7" y2="567.8" stroke="#11763a" stroke-width="1.9" />
<circle cx="490.7" cy="567.8" r="2" fill="#11763a"/>
<line x1="532.4" y1="567.8" x2="532.4" y2="690.4" stroke="#11763a" stroke-width="1.9" />
<line x1="132.4" y1="579.7" x2="175" y2="579.7" stroke="#11763a" stroke-width="1.8" />
<circle cx="175" cy="579.7" r="2" fill="#11763a"/>
<line x1="132.4" y1="579.7" x2="132.4" y2="690.4" stroke="#11763a" stroke-width="1.8" />
<circle cx="133" cy="691" r="2" fill="#11763a"/>
<circle cx="297" cy="648.6" r="1.9" fill="#11763a"/>
<line x1="468.5" y1="664.4" x2="487.5" y2="664.4" stroke="#11763a" stroke-width="1.4" />
<line x1="472.8" y1="668.9" x2="483.2" y2="668.9" stroke="#11763a" stroke-width="1.4" />
<line x1="476" y1="674.4" x2="480" y2="674.4" stroke="#11763a" stroke-width="1.4" />
<line x1="516.3" y1="526" x2="407" y2="482" stroke="#c9213a" stroke-width="0.9" />
<line x1="516.3" y1="526" x2="454.6" y2="570" stroke="#c9213a" stroke-width="0.9" />
<line x1="460.6" y1="588" x2="460.6" y2="620" stroke="#e8202a" stroke-width="1.8" />
<line x1="460.6" y1="620" x2="613" y2="620" stroke="#e8202a" stroke-width="1.8" />
<line x1="524" y1="608.8" x2="613" y2="608.8" stroke="#111" stroke-width="1.0" />
<line x1="470.5" y1="559.7" x2="596" y2="559.7" stroke="#111" stroke-width="1.1" />
<text x="505.8" y="558.1" font-family="Liberation Serif" font-size="13.2" fill="#111" stroke="#111" stroke-width="0.28" textLength="89.5" lengthAdjust="spacing" >Information rack</text>
<path d="M601,551 V554.5 H596.8 M598.5,553 L596.8,554.5 L598.5,556" fill="none" stroke="#888" stroke-width="0.7"/>
<path d="M285,645.3 L484.5,645.3 L479,653.5 L278.8,653.5 Z" fill="none" stroke="#11763a" stroke-width="1.4" />
<line x1="281.5" y1="649.4" x2="481.5" y2="649.4" stroke="#11763a" stroke-width="1.2" />
<line x1="355" y1="645.3" x2="350" y2="653.5" stroke="#11763a" stroke-width="1.2" />
<line x1="414" y1="645.3" x2="409" y2="653.5" stroke="#11763a" stroke-width="1.2" />
<line x1="48.9" y1="690.4" x2="577.4" y2="690.4" stroke="#11763a" stroke-width="1.9" />
<line x1="577.4" y1="690.4" x2="608" y2="643.6" stroke="#11763a" stroke-width="1.9" />
<line x1="48.9" y1="690.4" x2="79" y2="645.2" stroke="#11763a" stroke-width="1.9" />
<path d="M132.6,664 L158.3,676.6 H498 Q518,675 531,664.2 Q562,705 615.5,730.5" fill="none" stroke="#e9611f" stroke-width="1.5" stroke-dasharray="1.6,2.6"/>
<path d="M132.6,664 Q95,715 36.3,733.2" fill="none" stroke="#e9611f" stroke-width="1.5" stroke-dasharray="1.6,2.6"/>
<path d="M282,687 l4,2 l-1,2" fill="#c9213a" stroke="#c9213a" stroke-width="1.5"/>
<rect x="79" y="569" width="29" height="35.3" fill="#fff" stroke="#333" stroke-width="0.9" />
<rect x="81" y="571" width="25" height="31.299999999999997" fill="#fff" stroke="#111" stroke-width="1" />
<rect x="102" y="584.885" width="1.6" height="4.5" fill="#111" stroke="none" stroke-width="0" />
<rect x="74" y="604.3" width="39.5" height="8.3" fill="#bbb" stroke="#444" stroke-width="0.8" />
<line x1="55" y1="608" x2="74" y2="608" stroke="#111" stroke-width="1.2" />
<line x1="113.5" y1="608" x2="140.6" y2="608" stroke="#111" stroke-width="1.2" />
<path d="M87.8,612.6 V624.4 H58.9" fill="none" stroke="#111" stroke-width="2.2" />
<path d="M98.4,612.6 V624.4 H140.6" fill="none" stroke="#111" stroke-width="2.2" />
<line x1="93.3" y1="604.3" x2="93.3" y2="664.6" stroke="#11763a" stroke-width="1.4" />
<line x1="85.5" y1="665" x2="104.5" y2="665" stroke="#11763a" stroke-width="1.4" />
<line x1="89.8" y1="669.5" x2="100.2" y2="669.5" stroke="#11763a" stroke-width="1.4" />
<line x1="93" y1="675" x2="97" y2="675" stroke="#11763a" stroke-width="1.4" />
<line x1="106" y1="628.7" x2="147" y2="628.7" stroke="#e9611f" stroke-width="1.4" />
<polygon points="153,628.7 148.52,626.46 148.52,630.94" fill="#e9611f"/>
<text x="57" y="547.7" font-family="Liberation Serif" font-size="13.2" fill="#111" stroke="#111" stroke-width="0.28" textLength="93.7" lengthAdjust="spacing" >Incoming of high-</text>
<path d="M156,541 V544.5 H151.8 M153.5,543 L151.8,544.5 L153.5,546" fill="none" stroke="#888" stroke-width="0.7"/>
<text x="57" y="562.8" font-family="Liberation Serif" font-size="13.2" fill="#111" stroke="#111" stroke-width="0.28" textLength="71.5" lengthAdjust="spacing" >Voltage cable</text>
<path d="M134,556 V559.5 H129.8 M131.5,558 L129.8,559.5 L131.5,561" fill="none" stroke="#888" stroke-width="0.7"/>
<text x="54.6" y="648.3" font-family="Liberation Serif" font-size="13.2" fill="#e37431" stroke="#e37431" stroke-width="0.28" textLength="105.4" lengthAdjust="spacing" >Ingress of lightning</text>
<text x="54.6" y="662.3" font-family="Liberation Serif" font-size="13.2" fill="#e37431" stroke="#e37431" stroke-width="0.28" textLength="33.2" lengthAdjust="spacing" >surges</text>
<path d="M55,663.5 q2,-1.5 4,0 t4,0 t4,0 t4,0 t4,0 t4,0 t4,0 t4,0" fill="none" stroke="#2b3fa8" stroke-width="0.9"/>
<path d="M93,656 V659.5 H88.8 M90.5,658 L88.8,659.5 L90.5,661" fill="none" stroke="#888" stroke-width="0.7"/>
<text x="264" y="674.3" font-family="Liberation Serif" font-size="13.2" fill="#e37431" stroke="#e37431" stroke-width="0.28" textLength="113" lengthAdjust="spacing" >Ground potential rise</text>
<path d="M383,667 V670.5 H378.8 M380.5,669 L378.8,670.5 L380.5,672" fill="none" stroke="#888" stroke-width="0.7"/>
<text x="361.8" y="665.8" font-family="Liberation Serif" font-size="13.2" fill="#c9213a" stroke="#c9213a" stroke-width="0.28" textLength="102" lengthAdjust="spacing" >Medical grounding</text>
<path d="M470,659 V662.5 H465.8 M467.5,661 L465.8,662.5 L467.5,664" fill="none" stroke="#888" stroke-width="0.7"/>
<text x="424.3" y="686.5" font-family="Liberation Serif" font-size="9" fill="#111" stroke="#111" stroke-width="0.28" textLength="38.7" lengthAdjust="spacing" >Functional</text>
<text x="124.5" y="706.3" font-family="Liberation Serif" font-size="13.2" fill="#c9213a" stroke="#c9213a" stroke-width="0.28" textLength="107.5" lengthAdjust="spacing" >Ring earth electrode</text>
<path d="M238,699 V702.5 H233.8 M235.5,701 L233.8,702.5 L235.5,704" fill="none" stroke="#888" stroke-width="0.7"/>
<text x="537.6" y="636.0" font-family="Liberation Serif" font-size="13.2" fill="#111" stroke="#111" stroke-width="0.28" textLength="70.4" lengthAdjust="spacing" >Optical cable</text>
<path d="M614,629 V632.5 H609.8 M611.5,631 L609.8,632.5 L611.5,634" fill="none" stroke="#888" stroke-width="0.7"/>
<rect x="243.5" y="695.8" width="223" height="33.8" fill="#fff" stroke="#e9611f" stroke-width="2.2" />
<text x="252.3" y="712.1" font-family="Liberation Serif" font-size="13.2" fill="#e37431" stroke="#e37431" stroke-width="0.28" textLength="204.4" lengthAdjust="spacing" >Medical ground. Reducing impedance</text>
<text x="252.3" y="725.7" font-family="Liberation Serif" font-size="13.2" fill="#e37431" stroke="#e37431" stroke-width="0.28" textLength="119.3" lengthAdjust="spacing" >by mesh-configuration</text>
<path d="M377,719 V722.5 H372.8 M374.5,721 L372.8,722.5 L374.5,724" fill="none" stroke="#888" stroke-width="0.7"/>
<rect x="53.5" y="223.2" width="95" height="152" fill="#fff" stroke="#e9611f" stroke-width="2.2" />
<text x="62.3" y="238.9" font-family="Liberation Serif" font-size="13.2" fill="#e37431" stroke="#e37431" stroke-width="0.28" textLength="60" lengthAdjust="spacing" >Because no</text>
<text x="62.3" y="254.35" font-family="Liberation Serif" font-size="13.2" fill="#e37431" stroke="#e37431" stroke-width="0.28" textLength="48" lengthAdjust="spacing" >lightning</text>
<text x="62.3" y="269.8" font-family="Liberation Serif" font-size="13.2" fill="#e37431" stroke="#e37431" stroke-width="0.28" textLength="71" lengthAdjust="spacing" >current flows</text>
<text x="62.3" y="285.25" font-family="Liberation Serif" font-size="13.2" fill="#e37431" stroke="#e37431" stroke-width="0.28" textLength="51.5" lengthAdjust="spacing" >inside the</text>
<text x="62.3" y="300.7" font-family="Liberation Serif" font-size="13.2" fill="#e37431" stroke="#e37431" stroke-width="0.28" textLength="66.5" lengthAdjust="spacing" >building, the</text>
<text x="62.3" y="316.15" font-family="Liberation Serif" font-size="13.2" fill="#e37431" stroke="#e37431" stroke-width="0.28" textLength="76.7" lengthAdjust="spacing" >magnetic field</text>
<text x="62.3" y="331.6" font-family="Liberation Serif" font-size="13.2" fill="#e37431" stroke="#e37431" stroke-width="0.28" textLength="30" lengthAdjust="spacing" >in the</text>
<text x="62.3" y="347.05" font-family="Liberation Serif" font-size="13.2" fill="#e37431" stroke="#e37431" stroke-width="0.28" textLength="56" lengthAdjust="spacing" >building is</text>
<text x="62.3" y="362.5" font-family="Liberation Serif" font-size="13.2" fill="#e37431" stroke="#e37431" stroke-width="0.28" textLength="43" lengthAdjust="spacing" >reduced.</text>
<path d="M113,355.5 V359.0 H108.8 M110.5,357.5 L108.8,359.0 L110.5,360.5" fill="none" stroke="#888" stroke-width="0.7"/>
<path d="M115,444 V447.5 H110.8 M112.5,446 L110.8,447.5 L112.5,449" fill="none" stroke="#777" stroke-width="0.7"/>
<rect x="516.5" y="433" width="84.5" height="111.5" fill="#fff" stroke="#e9611f" stroke-width="2.2" />
<text x="524.6" y="448.2" font-family="Liberation Serif" font-size="13.2" fill="#e37431" stroke="#e37431" stroke-width="0.28" textLength="36" lengthAdjust="spacing" >Isolate</text>
<text x="524.6" y="463.7" font-family="Liberation Serif" font-size="13.2" fill="#e37431" stroke="#e37431" stroke-width="0.28" textLength="38" lengthAdjust="spacing" >critical</text>
<text x="571" y="463.7" font-family="Liberation Serif" font-size="13.2" fill="#e37431" stroke="#e37431" stroke-width="0.28" textLength="21.5" lengthAdjust="spacing" >load</text>
<text x="524.6" y="479.2" font-family="Liberation Serif" font-size="13.2" fill="#e37431" stroke="#e37431" stroke-width="0.28" textLength="34" lengthAdjust="spacing" >power</text>
<text x="524.6" y="494.7" font-family="Liberation Serif" font-size="13.2" fill="#e37431" stroke="#e37431" stroke-width="0.28" textLength="35" lengthAdjust="spacing" >supply</text>
<text x="568" y="494.7" font-family="Liberation Serif" font-size="13.2" fill="#e37431" stroke="#e37431" stroke-width="0.28" textLength="24.5" lengthAdjust="spacing" >with</text>
<text x="524.6" y="510.2" font-family="Liberation Serif" font-size="13.2" fill="#e37431" stroke="#e37431" stroke-width="0.28" textLength="64" lengthAdjust="spacing" >lightning-re</text>
<text x="524.6" y="525.7" font-family="Liberation Serif" font-size="13.2" fill="#e37431" stroke="#e37431" stroke-width="0.28" textLength="34.5" lengthAdjust="spacing" >sistant</text>
<text x="524.6" y="541.2" font-family="Liberation Serif" font-size="13.2" fill="#e37431" stroke="#e37431" stroke-width="0.28" textLength="62" lengthAdjust="spacing" >transformer</text>
<path d="M592,535 V538.5 H587.8 M589.5,537 L587.8,538.5 L589.5,540" fill="none" stroke="#888" stroke-width="0.7"/>
<ellipse cx="155" cy="149.6" rx="30.7" ry="7.6" fill="none" stroke="#e9611f" stroke-width="1.8" stroke-dasharray="1.8,2.4"/>
<ellipse cx="152" cy="149.6" rx="17" ry="4.2" fill="none" stroke="#e9611f" stroke-width="1.5" stroke-dasharray="1.8,2.4"/>
<path d="M128,146.6 L137,143.79999999999998" fill="none" stroke="#e9611f" stroke-width="1.6" />
<polygon points="141,143.0 137.32,141.16 137.32,144.84" fill="#e9611f"/>
<path d="M183,153.1 L174,155.4" fill="none" stroke="#e9611f" stroke-width="1.6" />
<polygon points="171,156.0 174.68,154.16 174.68,157.84" fill="#e9611f"/>
<ellipse cx="509.5" cy="153.7" rx="30.7" ry="7.6" fill="none" stroke="#e9611f" stroke-width="1.8" stroke-dasharray="1.8,2.4"/>
<ellipse cx="506.5" cy="153.7" rx="17" ry="4.2" fill="none" stroke="#e9611f" stroke-width="1.5" stroke-dasharray="1.8,2.4"/>
<path d="M482.5,150.7 L491.5,147.89999999999998" fill="none" stroke="#e9611f" stroke-width="1.6" />
<polygon points="495.5,147.1 491.82,145.26 491.82,148.94" fill="#e9611f"/>
<path d="M537.5,157.2 L528.5,159.5" fill="none" stroke="#e9611f" stroke-width="1.6" />
<polygon points="525.5,160.1 529.18,158.26 529.18,161.94" fill="#e9611f"/>
<ellipse cx="155.7" cy="435.6" rx="30.7" ry="7.6" fill="none" stroke="#e9611f" stroke-width="1.8" stroke-dasharray="1.8,2.4"/>
<ellipse cx="152.7" cy="435.6" rx="17" ry="4.2" fill="none" stroke="#e9611f" stroke-width="1.5" stroke-dasharray="1.8,2.4"/>
<path d="M128.7,432.6 L137.7,429.8" fill="none" stroke="#e9611f" stroke-width="1.6" />
<polygon points="141.7,429.0 138.01999999999998,427.16 138.01999999999998,430.84" fill="#e9611f"/>
<path d="M183.7,439.1 L174.7,441.40000000000003" fill="none" stroke="#e9611f" stroke-width="1.6" />
<polygon points="171.7,442.0 175.38,440.16 175.38,443.84" fill="#e9611f"/>
<ellipse cx="513.4" cy="420.3" rx="30.7" ry="7.6" fill="none" stroke="#e9611f" stroke-width="1.8" stroke-dasharray="1.8,2.4"/>
<ellipse cx="510.4" cy="420.3" rx="17" ry="4.2" fill="none" stroke="#e9611f" stroke-width="1.5" stroke-dasharray="1.8,2.4"/>
<path d="M486.4,417.3 L495.4,414.5" fill="none" stroke="#e9611f" stroke-width="1.6" />
<polygon points="499.4,413.7 495.71999999999997,411.86 495.71999999999997,415.53999999999996" fill="#e9611f"/>
<path d="M541.4,423.8 L532.4,426.1" fill="none" stroke="#e9611f" stroke-width="1.6" />
<polygon points="529.4,426.7 533.0799999999999,424.86 533.0799999999999,428.53999999999996" fill="#e9611f"/>
<rect x="323.2" y="101.4" width="19.5" height="4.6" fill="#7a7a7a" stroke="#333" stroke-width="0.8" />
<rect x="331" y="54" width="4" height="47" fill="#c8c8c8" stroke="#111" stroke-width="1.3" />
<rect x="332" y="55" width="2" height="25" fill="#fff" stroke="none" stroke-width="0" />
<polygon points="332.7,46.3 330.2,54.5 335.8,54.5" fill="#111"/>
<path d="M342,33 V36.5 H337.8 M339.5,35 L337.8,36.5 L339.5,38" fill="none" stroke="#888" stroke-width="0.7"/>
<path d="M413,32 V35.5 H408.8 M410.5,34 L408.8,35.5 L410.5,37" fill="none" stroke="#888" stroke-width="0.7"/>
<path d="M391,49 V52.5 H386.8 M388.5,51 L386.8,52.5 L388.5,54" fill="none" stroke="#888" stroke-width="0.7"/>
<path d="M348,56.8 q2,-1.5 4,0 t4,0 t4,0 t4,0 t4,0 t4,0 t4,0 t4,0 t4,0" fill="none" stroke="#2b3fa8" stroke-width="0.9"/>
<path d="M313,61 V64.5 H308.8 M310.5,63 L308.8,64.5 L310.5,66" fill="none" stroke="#888" stroke-width="0.7"/>
<path d="M127,180 V183.5 H122.8 M124.5,182 L122.8,183.5 L124.5,185" fill="none" stroke="#888" stroke-width="0.7"/>
<polygon points="273,72.5 220.4,72.5 220.4,68.4 203.3,74.7 220.4,81 220.4,77.5 273,77.5" fill="#e9611f" stroke="#4a2410" stroke-width="0.9" stroke-linejoin="miter"/>
<polygon points="338.2,20 346.5,20 346.5,73 348.3,73 342.4,90.6 336.5,73 338.2,73" fill="#e9611f" stroke="#4a2410" stroke-width="0.9" stroke-linejoin="miter"/>
<polygon points="383.8,65.2 437.7,65.2 437.7,62 454.3,68.5 437.7,75 437.7,72.3 383.8,72.3" fill="#e9611f" stroke="#4a2410" stroke-width="0.9" stroke-linejoin="miter"/>
<polygon points="149.4,115.7 154.5,115.7 154.5,181.7 157,181.7 151.5,203.4 146,181.7 149.4,181.7" fill="#e9611f" stroke="#4a2410" stroke-width="0.9" stroke-linejoin="miter"/>
<polygon points="151.7,264 156.8,264 156.8,328.3 158.9,328.3 153.8,349.8 148.7,328.3 151.7,328.3" fill="#e9611f" stroke="#4a2410" stroke-width="0.9" stroke-linejoin="miter"/>
<polygon points="150.6,402 156.3,402 156.3,467.3 159.4,467.3 153.7,488 148,467.3 150.6,467.3" fill="#e9611f" stroke="#4a2410" stroke-width="0.9" stroke-linejoin="miter"/>
<polygon points="507.4,114 513,114 513,179.5 515.5,179.5 509.75,201 504,179.5 507.4,179.5" fill="#e9611f" stroke="#4a2410" stroke-width="0.9" stroke-linejoin="miter"/>
<polygon points="509.7,261 514.8,261 514.8,327 518,327 512.6,348.6 507.2,327 509.7,327" fill="#e9611f" stroke="#4a2410" stroke-width="0.9" stroke-linejoin="miter"/>
<polygon points="508.2,401 513.1,401 513.1,466 516.3,466 510.79999999999995,487.6 505.3,466 508.2,466" fill="#e9611f" stroke="#4a2410" stroke-width="0.9" stroke-linejoin="miter"/>
<polygon points="166.5,563.3 171.3,563.3 171.3,640.8 174.6,640.8 169.2,667 163.8,640.8 166.5,640.8" fill="#e9611f" stroke="#4a2410" stroke-width="0.9" stroke-linejoin="miter"/>
<polygon points="494.3,563.4 499.6,563.4 499.6,641.6 502.4,641.6 496.9,667.6 491.4,641.6 494.3,641.6" fill="#e9611f" stroke="#4a2410" stroke-width="0.9" stroke-linejoin="miter"/>
<ellipse cx="425" cy="69.6" rx="12" ry="43.4" fill="none" stroke="#e9611f" stroke-width="1.6" stroke-dasharray="1.8,2.4"/>
<ellipse cx="425.3" cy="70" rx="9.7" ry="30" fill="none" stroke="#e9611f" stroke-width="1.5" stroke-dasharray="1.8,2.4"/>
<ellipse cx="426.2" cy="69" rx="7.5" ry="15.5" fill="none" stroke="#e9611f" stroke-width="1.5" stroke-dasharray="1.8,2.4"/>
<path d="M430,45 L431,57" fill="none" stroke="#e9611f" stroke-width="1.8" />
<polygon points="431.5,59 429.58,55.16 433.42,55.16" fill="#e9611f"/>
<path d="M420,104 L417.5,90" fill="none" stroke="#e9611f" stroke-width="1.8" />
<polygon points="417,88 415.08,91.84 418.92,91.84" fill="#e9611f"/>
<path d="M424,100 L421.5,83" fill="none" stroke="#e9611f" stroke-width="1.6" />
<polygon points="421,81 419.24,84.52 422.76,84.52" fill="#e9611f"/>
</svg>
</body></html>
